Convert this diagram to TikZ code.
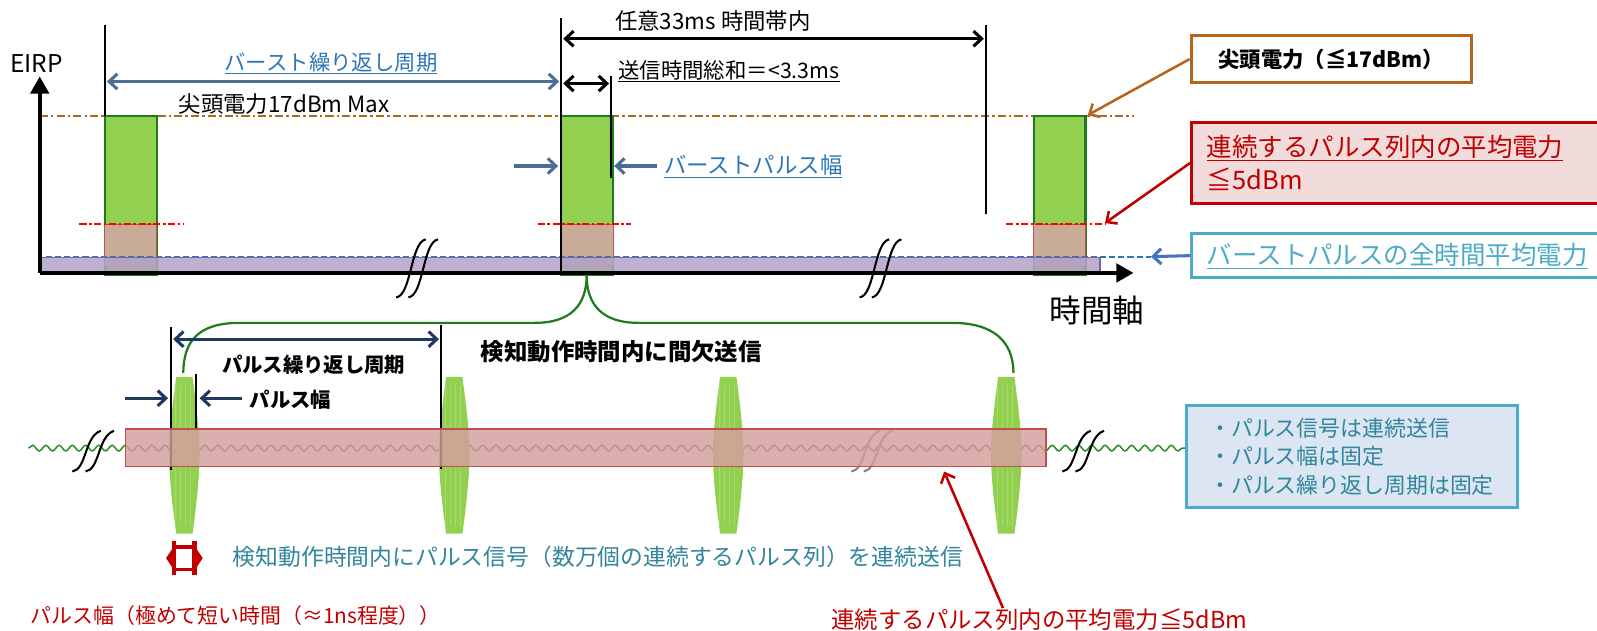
\documentclass[tikz,border=0pt]{standalone}
\usepackage{fontspec}
\setmainfont{Noto Sans CJK JP}
\usetikzlibrary{arrows.meta,decorations.pathmorphing,positioning}
\definecolor{burstgreen}{HTML}{92D050}
\definecolor{darkgreen}{HTML}{1E7B1E}
\definecolor{peakbrown}{HTML}{B5651D}
\definecolor{avgred}{HTML}{C00000}
\definecolor{avgpink}{HTML}{F2DCDB}
\definecolor{burstblue}{HTML}{2E75B6}
\definecolor{arrowblue}{HTML}{4A6D94}
\definecolor{navy}{HTML}{203864}
\definecolor{cyanline}{HTML}{4BACC6}
\definecolor{tealtxt}{HTML}{31859C}
\definecolor{notebg}{HTML}{DCE6F2}
\definecolor{barpurple}{HTML}{B3A2C7}
\definecolor{barline}{HTML}{8064A2}
\definecolor{tanfill}{HTML}{C9AC98}
\definecolor{bandfill}{RGB}{212,157,157}
\definecolor{bandline}{HTML}{C0504D}
\definecolor{wavegreen}{HTML}{2E8B2E}
\definecolor{meanblue}{HTML}{4472C4}

\begin{document}
\begin{tikzpicture}[x=1pt,y=-1pt,
  >={Straight Barb[length=8pt,width=15pt]},
  txt/.style={inner sep=0pt,font=\fontsize{21}{25}\selectfont},
  dim/.style={<->,line width=3pt},
  tick/.style={line width=2pt},
  axis/.style={line width=4pt,-{Triangle[length=17pt,width=18pt]}},
  burst/.style={fill=burstgreen,draw=darkgreen,line width=2.5pt},
  callout/.style={draw,line width=3pt,inner sep=0pt},
  brk/.style={line width=2pt}]
\useasboundingbox (0,0) rectangle (1568,619);

\draw[peakbrown,line width=2.2pt,dash pattern=on 8pt off 3pt on 2.5pt off 3pt] (39,114) -- (1113,114);
\foreach \bx in {103,551,1015}{
  \draw[burst] (\bx,114) rectangle ({\bx+51},270);
  \draw[fill=tanfill,draw=bandline,line width=1pt] (\bx,220) rectangle ({\bx+51},262);
}
\foreach \ra/\rb in {78/180,528/620,988/1085}
  \draw[red,line width=2.2pt,dash pattern=on 7pt off 2.5pt on 2.5pt off 2.5pt] (\ra,220) -- (\rb,220);
\draw[burstblue,line width=2.2pt,dash pattern=on 6pt off 3pt] (45,252) -- (1130,252);
\draw[fill=barpurple,fill opacity=0.85,draw=barline,line width=1.2pt] (39,253) rectangle (1080,267);
\coordinate (origin) at (39,268);
\coordinate (ytip) at (39,75);
\coordinate (xtip) at (1113,268);
\draw[axis] (origin) -- (ytip);
\draw[axis] (origin) -- (xtip);
\foreach \bx in {389,401,844,856}
  \draw[brk] (\bx,292) .. controls ({\bx+15},290) and ({\bx+14},238) .. ({\bx+29},235);

\draw[tick] (103,25) -- (103,114);
\draw[tick] (551,18) -- (551,270);
\draw[tick] (600,75) -- (600,175);
\draw[tick] (968,25) -- (968,210);
\coordinate (repL) at (105,80);
\coordinate (repR) at (549,80);
\draw[dim,arrowblue] (repL) -- (repR);
\coordinate (winL) at (553,38);
\coordinate (winR) at (966,38);
\draw[dim] (winL) -- (winR);
\coordinate (sumL) at (553,82);
\coordinate (sumR) at (598,82);
\draw[dim] (sumL) -- (sumR);
\coordinate (bwL) at (505,163);
\coordinate (bwLtip) at (548,163);
\coordinate (bwR) at (645,163);
\coordinate (bwRtip) at (603,163);
\draw[->,line width=3pt,arrowblue] (bwL) -- (bwLtip);
\draw[->,line width=3pt,arrowblue] (bwR) -- (bwRtip);

\node[txt,font=\fontsize{24}{28}\selectfont] (eirp) at (36,62) {EIRP};
\node[txt,burstblue] (reptxt) at (325,62) {\underline{バースト繰り返し周期}};
\node[txt,font=\fontsize{22}{26}\selectfont] (peaktxt) at (279,102) {尖頭電力17dBm Max};
\node[txt,font=\fontsize{22}{26}\selectfont] (wintxt) at (700,21) {任意33ms 時間帯内};
\node[txt,anchor=west] (sumtxt) at (607,70) {\underline{送信時間総和＝<3.3ms}};
\node[txt,anchor=west,burstblue,font=\fontsize{22}{26}\selectfont] (bwtxt) at (652,163) {\underline{バーストパルス幅}};

\node[callout,draw=peakbrown,fill=white,minimum width=275pt,minimum height=46pt,font=\bfseries\fontsize{21}{25}\selectfont] (peakbox) at (1307,58) {尖頭電力（≦17dBm）};
\node[callout,draw=avgred,fill=avgpink,minimum width=430pt,minimum height=80pt,text width=400pt,align=left,text=avgred,font=\fontsize{25}{32}\selectfont] (avgbox) at (1385,160) {\underline{連続するパルス列内の平均電力}\\≦5dBm};
\node[callout,draw=cyanline,fill=white,minimum width=430pt,minimum height=43pt,text width=400pt,align=left,text=cyanline,font=\fontsize{25}{30}\selectfont] (totbox) at (1385,251) {\underline{バーストパルスの全時間平均電力}};
\coordinate (peaktip) at (1068,113);
\coordinate (avgtip) at (1085,219);
\coordinate (tottip) at (1130,252);
\draw[->,peakbrown,line width=2.5pt] (peakbox.west) -- (peaktip);
\draw[->,avgred,line width=2.5pt] (avgbox.west) -- (avgtip);
\draw[->,meanblue,line width=3pt] (totbox.west) -- (tottip);
\node[txt,font=\fontsize{31}{36}\selectfont] (timeaxis) at (1077,305) {時間軸};

\draw[darkgreen,line width=2.2pt] (180,366) .. controls (180,335) and (195,317) .. (235,317) -- (525,317) .. controls (560,317) and (576,300) .. (576,270) .. controls (576,300) and (592,317) .. (627,317) -- (935,317) .. controls (975,317) and (995,335) .. (995,366);

\draw[wavegreen,line width=1.5pt,decorate,decoration={snake,segment length=13pt,amplitude=2.8pt}] (28,440) -- (1165,440);
\foreach \bx/\bc in {71/black,84/black,1043/black,1056/black,836/gray,848/gray}
  \draw[brk,\bc] (\bx,463) .. controls ({\bx+14},461) and ({\bx+12},428) .. ({\bx+28},423);
\foreach \px in {181,446,715,988}{
  \fill[burstgreen] ({\px-8},370) -- ({\px+8},370) .. controls ({\px+12},400) and ({\px+15},425) .. ({\px+15},446) .. controls ({\px+15},467) and ({\px+12},495) .. ({\px+8},524) -- ({\px-8},524) .. controls ({\px-12},495) and ({\px-15},467) .. ({\px-15},446) .. controls ({\px-15},425) and ({\px-12},400) .. cycle;
  \foreach \dx in {-9,-4,1,6}
    \draw[white,opacity=.2,line width=.6pt] ({\px+\dx},378) -- ({\px+\dx},516);
}
\draw[line width=2pt] (168,321) -- (168,461);
\draw[line width=2pt] (192,367) -- (192,421);
\draw[line width=2pt] (433,319) -- (433,460);
\draw[fill=bandfill,fill opacity=0.82,draw=bandline,line width=1.4pt] (123,421) rectangle (1027,458);

\coordinate (prL) at (170,333);
\coordinate (prR) at (431,333);
\draw[dim,navy] (prL) -- (prR);
\coordinate (pwL) at (123,391);
\coordinate (pwLtip) at (165,391);
\coordinate (pwR) at (238,391);
\coordinate (pwRtip) at (196,391);
\draw[->,line width=3pt,navy] (pwL) -- (pwLtip);
\draw[->,line width=3pt,navy] (pwR) -- (pwRtip);
\node[txt,font=\bfseries\fontsize{20}{24}\selectfont] (prtxt) at (308,358) {パルス繰り返し周期};
\node[txt,anchor=west,font=\bfseries\fontsize{20}{24}\selectfont] (pwtxt) at (245,392) {パルス幅};
\node[txt,font=\bfseries\fontsize{23}{27}\selectfont] (dettxt) at (610,345) {検知動作時間内に間欠送信};

\draw[avgred,line width=4pt] (171,531) -- (171,565) (191,531) -- (191,565);
\draw[avgred,line width=3.5pt] (171,537) -- (191,537) (171,559) -- (191,559);
\fill[avgred] (169,539) -- (163,548) -- (169,557) -- cycle;
\fill[avgred] (193,539) -- (199,548) -- (193,557) -- cycle;

\node[txt,tealtxt,font=\fontsize{22.4}{26}\selectfont] (conttxt) at (587,547) {検知動作時間内にパルス信号（数万個の連続するパルス列）を連続送信};
\node[txt,avgred,anchor=west,font=\fontsize{20.5}{24}\selectfont] (pwnote) at (30,604) {パルス幅（極めて短い時間（≈1ns程度））};
\node[txt,avgred,anchor=west,font=\fontsize{23}{27}\selectfont] (avgtxt) at (816,608) {連続するパルス列内の平均電力≦5dBm};
\coordinate (bandtip) at (927,463);
\draw[->,avgred,line width=2.5pt] (avgtxt.163) -- (bandtip);

\node[draw=cyanline,line width=3pt,fill=notebg,text=tealtxt,minimum width=325pt,minimum height=100pt,align=left,inner sep=0pt,font=\fontsize{21.5}{28}\selectfont] (notebox) at (1327,448) {・パルス信号は連続送信\\・パルス幅は固定\\・パルス繰り返し周期は固定};
\end{tikzpicture}
\end{document}
